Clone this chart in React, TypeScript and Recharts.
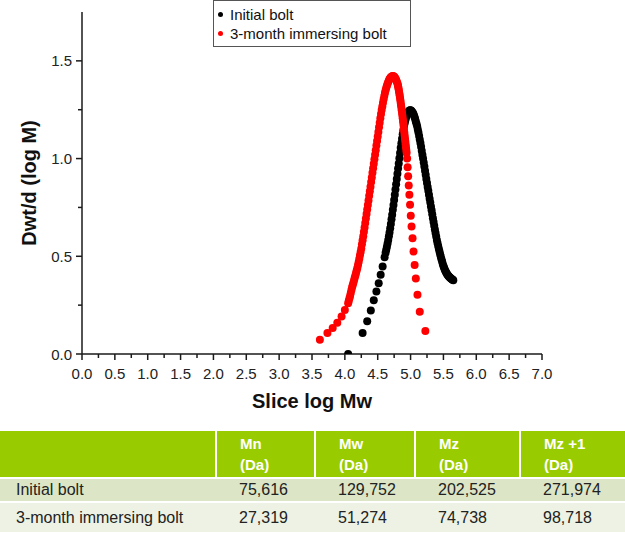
import React from "react";
import {
  ScatterChart,
  Scatter,
  XAxis,
  YAxis,
  Legend,
} from "recharts";

// slice log Mw vs Dwt/d(log M)
const initialBoltPoints: [number, number][] = [
  [4.05, 0.0], [4.27, 0.107], [4.34, 0.167], [4.395, 0.223], [4.44, 0.275],
  [4.48, 0.32], [4.515, 0.362], [4.545, 0.405], [4.575, 0.448], [4.605, 0.495],
  [4.62, 0.518], [4.63, 0.533], [4.64, 0.549], [4.65, 0.565], [4.66, 0.583],
  [4.67, 0.602], [4.68, 0.622], [4.69, 0.643], [4.7, 0.665], [4.71, 0.689],
  [4.72, 0.713], [4.73, 0.738], [4.74, 0.763], [4.75, 0.788], [4.76, 0.815],
  [4.77, 0.842], [4.78, 0.868], [4.79, 0.895], [4.8, 0.922], [4.81, 0.949],
  [4.82, 0.975], [4.83, 1.002], [4.84, 1.029], [4.85, 1.055], [4.86, 1.079],
  [4.87, 1.102], [4.88, 1.124], [4.89, 1.145], [4.9, 1.165], [4.91, 1.181],
  [4.92, 1.196], [4.93, 1.209], [4.94, 1.219], [4.95, 1.228], [4.96, 1.235],
  [4.97, 1.241], [4.98, 1.245], [4.99, 1.247], [5.0, 1.247], [5.01, 1.245],
  [5.02, 1.241], [5.03, 1.236], [5.04, 1.23], [5.05, 1.223], [5.06, 1.213],
  [5.07, 1.202], [5.08, 1.19], [5.09, 1.178], [5.1, 1.165], [5.11, 1.149],
  [5.12, 1.133], [5.13, 1.116], [5.14, 1.098], [5.15, 1.08], [5.16, 1.06],
  [5.17, 1.04], [5.18, 1.02], [5.19, 1.0], [5.2, 0.98], [5.21, 0.959],
  [5.22, 0.938], [5.23, 0.917], [5.24, 0.896], [5.25, 0.875], [5.26, 0.855],
  [5.27, 0.835], [5.28, 0.815], [5.29, 0.795], [5.3, 0.775], [5.31, 0.755],
  [5.32, 0.735], [5.33, 0.715], [5.34, 0.695], [5.35, 0.675], [5.36, 0.656],
  [5.37, 0.637], [5.38, 0.619], [5.39, 0.601], [5.4, 0.583], [5.41, 0.568],
  [5.42, 0.553], [5.43, 0.538], [5.44, 0.524], [5.45, 0.51], [5.46, 0.497],
  [5.47, 0.485], [5.48, 0.473], [5.49, 0.461], [5.5, 0.45], [5.51, 0.441],
  [5.52, 0.433], [5.53, 0.425], [5.54, 0.418], [5.55, 0.412], [5.56, 0.407],
  [5.57, 0.402], [5.58, 0.398], [5.59, 0.394], [5.6, 0.391], [5.61, 0.388],
  [5.62, 0.385], [5.63, 0.382], [5.64, 0.38], [5.65, 0.378],
];

const immersedBoltPoints: [number, number][] = [
  [3.62, 0.073], [3.735, 0.107], [3.815, 0.133], [3.885, 0.16], [3.95, 0.192],
  [4.0, 0.225], [4.05, 0.26], [4.06, 0.272], [4.07, 0.285], [4.08, 0.298],
  [4.09, 0.312], [4.1, 0.328], [4.11, 0.341], [4.12, 0.353], [4.13, 0.365],
  [4.14, 0.377], [4.15, 0.39], [4.16, 0.402], [4.17, 0.414], [4.18, 0.427],
  [4.19, 0.44], [4.2, 0.455], [4.21, 0.471], [4.22, 0.488], [4.23, 0.505],
  [4.24, 0.522], [4.25, 0.54], [4.26, 0.561], [4.27, 0.582], [4.28, 0.603],
  [4.29, 0.625], [4.3, 0.647], [4.31, 0.67], [4.32, 0.693], [4.33, 0.716],
  [4.34, 0.74], [4.35, 0.763], [4.36, 0.786], [4.37, 0.81], [4.38, 0.833],
  [4.39, 0.856], [4.4, 0.88], [4.41, 0.903], [4.42, 0.927], [4.43, 0.95],
  [4.44, 0.973], [4.45, 0.997], [4.46, 1.02], [4.47, 1.043], [4.48, 1.067],
  [4.49, 1.09], [4.5, 1.113], [4.51, 1.136], [4.52, 1.16], [4.53, 1.183],
  [4.54, 1.206], [4.55, 1.228], [4.56, 1.248], [4.57, 1.267], [4.58, 1.286],
  [4.59, 1.304], [4.6, 1.32], [4.61, 1.335], [4.62, 1.349], [4.63, 1.362],
  [4.64, 1.373], [4.65, 1.383], [4.66, 1.392], [4.67, 1.4], [4.68, 1.407],
  [4.69, 1.412], [4.7, 1.416], [4.71, 1.419], [4.72, 1.421], [4.73, 1.422],
  [4.74, 1.421], [4.75, 1.419], [4.76, 1.415], [4.77, 1.41], [4.78, 1.403],
  [4.79, 1.395], [4.8, 1.386], [4.805, 1.378], [4.81, 1.37], [4.815, 1.361],
  [4.82, 1.352], [4.825, 1.342], [4.83, 1.332], [4.835, 1.321], [4.84, 1.31],
  [4.845, 1.298], [4.85, 1.286], [4.855, 1.273], [4.86, 1.26], [4.865, 1.247],
  [4.87, 1.234], [4.875, 1.22], [4.88, 1.206], [4.885, 1.192], [4.89, 1.178],
  [4.895, 1.163], [4.9, 1.148], [4.905, 1.133], [4.91, 1.118], [4.915, 1.103],
  [4.92, 1.088], [4.925, 1.073], [4.93, 1.058], [4.935, 1.044], [4.94, 1.03],
  [4.948, 1.0], [4.955, 0.955], [4.963, 0.91], [4.972, 0.862], [4.982, 0.815],
  [4.992, 0.764], [5.003, 0.708], [5.015, 0.653], [5.03, 0.592], [5.045, 0.524],
  [5.062, 0.455], [5.08, 0.386], [5.105, 0.303], [5.14, 0.216], [5.225, 0.118],
];

const seriesNames = ["Initial bolt", "3-month immersing bolt"];
const seriesColors = ["#000000", "#ff0000"];

const xTicks = [
  0, 0.25, 0.5, 0.75, 1, 1.25, 1.5, 1.75, 2, 2.25, 2.5, 2.75, 3, 3.25, 3.5,
  3.75, 4, 4.25, 4.5, 4.75, 5, 5.25, 5.5, 5.75, 6, 6.25, 6.5, 6.75, 7,
];
const yTicks = [0, 0.25, 0.5, 0.75, 1, 1.25, 1.5];

// table under the plot
const tableColumns = ["Mn", "Mw", "Mz", "Mz +1"];
const tableUnit = "(Da)";
const tableRowNames = ["Initial bolt", "3-month immersing bolt"];
const initialBoltStats = ["75,616", "129,752", "202,525", "271,974"];
const immersedBoltStats = ["27,319", "51,274", "74,738", "98,718"];

const FONT = '"Liberation Sans", Arial, sans-serif';
const AXIS = "#1a1a1a";

const isMajor = (v: number) => Math.abs(v * 2 - Math.round(v * 2)) < 1e-6;

const XTick = (props: any) => {
  const { x, y, payload } = props;
  const major = isMajor(payload.value);
  return (
    <g>
      <line x1={x} x2={x} y1={y} y2={y + (major ? 6 : 4)} stroke={AXIS} strokeWidth={1.5} />
      {major && (
        <text x={x} y={y + 19} textAnchor="middle" dominantBaseline="central" fontSize={15} fontFamily={FONT} fill="#222">
          {payload.value.toFixed(1)}
        </text>
      )}
    </g>
  );
};

const YTick = (props: any) => {
  const { x, y, payload } = props;
  const major = isMajor(payload.value);
  return (
    <g>
      <line x1={x} x2={x - (major ? 6 : 4)} y1={y} y2={y} stroke={AXIS} strokeWidth={1.5} />
      {major && (
        <text x={x - 10} y={y} textAnchor="end" dominantBaseline="central" fontSize={15} fontFamily={FONT} fill="#222">
          {payload.value.toFixed(1)}
        </text>
      )}
    </g>
  );
};

const dot = (color: string) => (p: any) => <circle cx={p.cx} cy={p.cy} r={4} fill={color} />;

const LegendBox = (props: any) => {
  // keep the plotting order, recharts sorts by name otherwise
  const items = [...(props.payload || [])].sort(
    (a: any, b: any) => seriesNames.indexOf(a.value) - seriesNames.indexOf(b.value)
  );
  return (
    <div
      style={{
        border: "1px solid #555",
        width: 198,
        height: 47,
        boxSizing: "border-box",
        padding: "4px 0 0 4px",
        background: "#fff",
        fontFamily: FONT,
        fontSize: 15,
        color: "#111",
      }}
    >
      {items.map((it: any) => (
        <div key={it.value} style={{ display: "flex", alignItems: "center", height: 19 }}>
          <span
            style={{
              display: "inline-block",
              width: 5,
              height: 5,
              borderRadius: "50%",
              background: it.color,
              marginRight: 7,
            }}
          />
          {it.value}
        </div>
      ))}
    </div>
  );
};

const cellBase: React.CSSProperties = { paddingLeft: 23, textAlign: "left" };

export default function App() {
  const initialData = initialBoltPoints.map(([x, y]) => ({ x, y }));
  const immersedData = immersedBoltPoints.map(([x, y]) => ({ x, y }));
  const statRows = [initialBoltStats, immersedBoltStats];

  return (
    <div style={{ position: "absolute", left: 0, top: 0, width: 625, height: 534, background: "#fff", overflow: "hidden" }}>
      <ScatterChart width={625} height={420} margin={{ top: 12, right: 83, bottom: 36, left: 0 }}>
        <XAxis
          type="number"
          dataKey="x"
          domain={[0, 7]}
          ticks={xTicks}
          interval={0}
          tickSize={0}
          tickMargin={0}
          tickLine={false}
          tick={<XTick />}
          height={30}
          axisLine={{ stroke: AXIS, strokeWidth: 1.5 }}
          label={{
            content: (p: any) => {
              const vb = p.viewBox;
              return (
                <text x={vb.x + vb.width / 2} y={401} textAnchor="middle" dominantBaseline="central" fontSize={20} fontWeight="bold" fontFamily={FONT} fill="#111">
                  Slice log Mw
                </text>
              );
            },
          }}
        />
        <YAxis
          type="number"
          dataKey="y"
          domain={[0, 1.75]}
          ticks={yTicks}
          interval={0}
          tickSize={0}
          tickMargin={0}
          tickLine={false}
          tick={<YTick />}
          width={82}
          allowDataOverflow
          axisLine={{ stroke: AXIS, strokeWidth: 1.5 }}
          label={{
            content: (p: any) => {
              const vb = p.viewBox;
              const cx = 29;
              const cy = vb.y + vb.height / 2;
              return (
                <text x={cx} y={cy} transform={`rotate(-90 ${cx} ${cy})`} textAnchor="middle" dominantBaseline="central" fontSize={20} fontWeight="bold" fontFamily={FONT} fill="#111">
                  Dwt/d (log M)
                </text>
              );
            },
          }}
        />
        <Legend
          layout="vertical"
          align="center"
          verticalAlign="middle"
          wrapperStyle={{ top: 0, left: 213, width: 198 }}
          content={<LegendBox />}
        />
        <Scatter name={seriesNames[0]} data={initialData} fill={seriesColors[0]} shape={dot(seriesColors[0])} isAnimationActive={false} />
        <Scatter name={seriesNames[1]} data={immersedData} fill={seriesColors[1]} shape={dot(seriesColors[1])} isAnimationActive={false} />
      </ScatterChart>

      <table
        style={{
          position: "absolute",
          left: 0,
          top: 431,
          width: 625,
          borderCollapse: "collapse",
          fontFamily: FONT,
          tableLayout: "fixed",
        }}
      >
        <colgroup>
          <col style={{ width: 216 }} />
          <col style={{ width: 99 }} />
          <col style={{ width: 100 }} />
          <col style={{ width: 105 }} />
          <col style={{ width: 105 }} />
        </colgroup>
        <thead>
          <tr style={{ background: "#99cc00", height: 47 }}>
            <th style={{ borderRight: "2px solid #fff" }} />
            {tableColumns.map((c, i) => (
              <th
                key={c}
                style={{
                  ...cellBase,
                  color: "#fff",
                  fontSize: 15,
                  lineHeight: "21px",
                  fontWeight: "bold",
                  borderRight: i < tableColumns.length - 1 ? "2px solid #fff" : "none",
                }}
              >
                {c}
                <br />
                {tableUnit}
              </th>
            ))}
          </tr>
        </thead>
        <tbody>
          {tableRowNames.map((name, r) => (
            <tr key={name} style={{ background: r === 0 ? "#dce6c6" : "#edf2e4", height: r === 0 ? 24 : 30, borderTop: "2px solid #fff" }}>
              <td style={{ paddingLeft: 16, fontSize: 16, color: "#222" }}>{name}</td>
              {statRows[r].map((v, i) => (
                <td key={i} style={{ ...cellBase, fontSize: 16, color: "#222" }}>
                  {v}
                </td>
              ))}
            </tr>
          ))}
        </tbody>
      </table>
    </div>
  );
}
